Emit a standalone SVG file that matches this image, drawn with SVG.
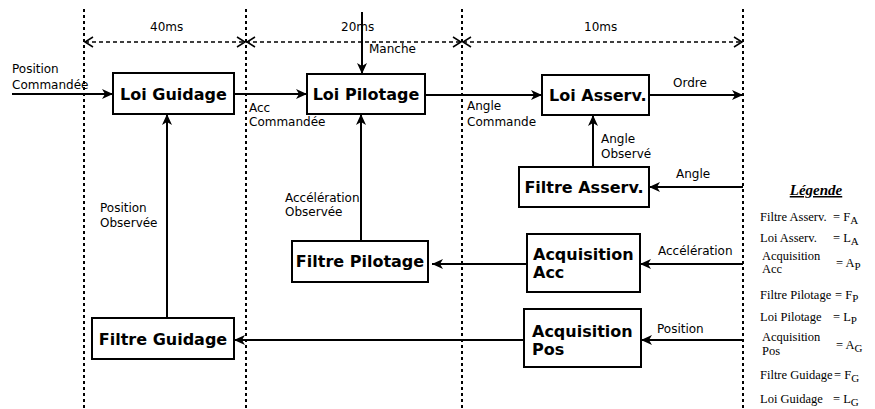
<svg xmlns="http://www.w3.org/2000/svg" width="875" height="409" viewBox="0 0 875 409">
<defs>
<style>
.box{fill:#fff;stroke:#000;stroke-width:2}
.bt{font-family:"DejaVu Sans",sans-serif;font-weight:bold;font-size:16px;fill:#000}
.lb{font-family:"DejaVu Sans",sans-serif;font-size:12px;fill:#000}
.grid{stroke:#000;stroke-width:2;stroke-dasharray:3,3;fill:none}
.dash{stroke:#000;stroke-width:1.5;stroke-dasharray:4,3;fill:none}
.chev{stroke:#000;stroke-width:1.5;fill:none}
.ln{stroke:#000;stroke-width:2;fill:none}
.lg{font-family:"Liberation Serif",serif;font-size:12.5px;fill:#000}
.sub{font-size:11px}
</style>
<marker id="ah" markerUnits="userSpaceOnUse" markerWidth="12" markerHeight="10" refX="11" refY="5" orient="auto">
<path d="M0,0 L11,5 L0,10 L3,5 z" fill="#000"/>
</marker>
</defs>

<g id="grid">
<line class="grid" x1="84" y1="9" x2="84" y2="409"/>
<line class="grid" x1="246" y1="9" x2="246" y2="409"/>
<line class="grid" x1="462" y1="9" x2="462" y2="409"/>
<line class="grid" x1="743" y1="9" x2="743" y2="409"/>
</g>

<g id="timing">
<line class="dash" x1="85" y1="42" x2="742" y2="42"/>
<path class="chev" d="M93,37 L85,42 L93,47"/>
<path class="chev" d="M237,37 L245,42 L237,47"/>
<path class="chev" d="M255,37 L247,42 L255,47"/>
<path class="chev" d="M453,37 L461,42 L453,47"/>
<path class="chev" d="M471,37 L463,42 L471,47"/>
<path class="chev" d="M734,37 L742,42 L734,47"/>
<text class="lb" x="150" y="31">40ms</text>
<text class="lb" x="341" y="31">20ms</text>
<text class="lb" x="584" y="31">10ms</text>
</g>

<g id="connectors">
<line class="ln" x1="12" y1="94" x2="113" y2="94" marker-end="url(#ah)"/>
<line class="ln" x1="234" y1="94" x2="307" y2="94" marker-end="url(#ah)"/>
<line class="ln" x1="362" y1="12" x2="362" y2="74" marker-end="url(#ah)"/>
<line class="ln" x1="425" y1="95" x2="542" y2="95" marker-end="url(#ah)"/>
<line class="ln" x1="649" y1="95" x2="743" y2="95" marker-end="url(#ah)"/>
<line class="ln" x1="593" y1="167" x2="593" y2="115" marker-end="url(#ah)"/>
<line class="ln" x1="743" y1="187" x2="649" y2="187" marker-end="url(#ah)"/>
<line class="ln" x1="743" y1="264" x2="640" y2="264" marker-end="url(#ah)"/>
<line class="ln" x1="743" y1="340" x2="641" y2="340" marker-end="url(#ah)"/>
<line class="ln" x1="527" y1="264" x2="432" y2="264" marker-end="url(#ah)"/>
<line class="ln" x1="524" y1="340" x2="234" y2="340" marker-end="url(#ah)"/>
<line class="ln" x1="361" y1="241" x2="361" y2="114" marker-end="url(#ah)"/>
<line class="ln" x1="167" y1="318" x2="167" y2="114" marker-end="url(#ah)"/>
<text class="lb" x="12" y="73">Position</text>
<text class="lb" x="12" y="89">Commandée</text>
<text class="lb" x="249" y="112">Acc</text>
<text class="lb" x="249" y="126">Commandée</text>
<text class="lb" x="369" y="53">Manche</text>
<text class="lb" x="467" y="110">Angle</text>
<text class="lb" x="467" y="126">Commande</text>
<text class="lb" x="673" y="87">Ordre</text>
<text class="lb" x="601" y="143">Angle</text>
<text class="lb" x="601" y="158">Observé</text>
<text class="lb" x="676" y="178">Angle</text>
<text class="lb" x="658" y="255">Accélération</text>
<text class="lb" x="657" y="333">Position</text>
<text class="lb" x="285" y="202">Accélération</text>
<text class="lb" x="285" y="216">Observée</text>
<text class="lb" x="100" y="212">Position</text>
<text class="lb" x="100" y="227">Observée</text>
</g>

<g id="loi-guidage">
<rect class="box" x="113" y="73" width="121" height="41"/>
<text class="bt" x="173.5" y="100" text-anchor="middle">Loi Guidage</text>
</g>
<g id="loi-pilotage">
<rect class="box" x="307" y="74" width="118" height="40"/>
<text class="bt" x="366" y="100" text-anchor="middle">Loi Pilotage</text>
</g>
<g id="loi-asserv">
<rect class="box" x="542" y="75" width="107" height="40"/>
<text class="bt" x="549" y="101">Loi Asserv.</text>
</g>
<g id="filtre-asserv">
<rect class="box" x="519" y="167" width="130" height="40"/>
<text class="bt" x="584" y="193" text-anchor="middle">Filtre Asserv.</text>
</g>
<g id="acquisition-acc">
<rect class="box" x="527" y="234" width="113" height="58"/>
<text class="bt" x="533" y="260">Acquisition</text>
<text class="bt" x="533" y="278">Acc</text>
</g>
<g id="filtre-pilotage">
<rect class="box" x="292" y="241" width="136" height="41"/>
<text class="bt" x="360" y="267" text-anchor="middle">Filtre Pilotage</text>
</g>
<g id="acquisition-pos">
<rect class="box" x="524" y="309" width="117" height="58"/>
<text class="bt" x="532" y="337">Acquisition</text>
<text class="bt" x="532" y="355">Pos</text>
</g>
<g id="filtre-guidage">
<rect class="box" x="92" y="318" width="142" height="41"/>
<text class="bt" x="163" y="345" text-anchor="middle">Filtre Guidage</text>
</g>

<g id="legende">
<text x="816" y="195" text-anchor="middle" font-family="Liberation Serif, serif" font-size="15" font-weight="bold" font-style="italic" text-decoration="underline">Légende</text>
<text class="lg" x="760" y="221">Filtre Asserv.</text>
<text class="lg" x="833" y="221">= F<tspan class="sub" dy="3">A</tspan></text>
<text class="lg" x="760" y="242">Loi Asserv.</text>
<text class="lg" x="833" y="242">= L<tspan class="sub" dy="3">A</tspan></text>
<text class="lg" x="762" y="260">Acquisition</text>
<text class="lg" x="762" y="273">Acc</text>
<text class="lg" x="836" y="267">= A<tspan class="sub" dy="3">P</tspan></text>
<text class="lg" x="760" y="299">Filtre Pilotage</text>
<text class="lg" x="835" y="299">= F<tspan class="sub" dy="3">P</tspan></text>
<text class="lg" x="760" y="321">Loi Pilotage</text>
<text class="lg" x="833" y="321">= L<tspan class="sub" dy="3">P</tspan></text>
<text class="lg" x="762" y="341">Acquisition</text>
<text class="lg" x="762" y="355">Pos</text>
<text class="lg" x="836" y="349">= A<tspan class="sub" dy="3">G</tspan></text>
<text class="lg" x="760" y="379">Filtre Guidage</text>
<text class="lg" x="834" y="379">= F<tspan class="sub" dy="3">G</tspan></text>
<text class="lg" x="760" y="403">Loi Guidage</text>
<text class="lg" x="833" y="403">= L<tspan class="sub" dy="3">G</tspan></text>
</g>
</svg>
